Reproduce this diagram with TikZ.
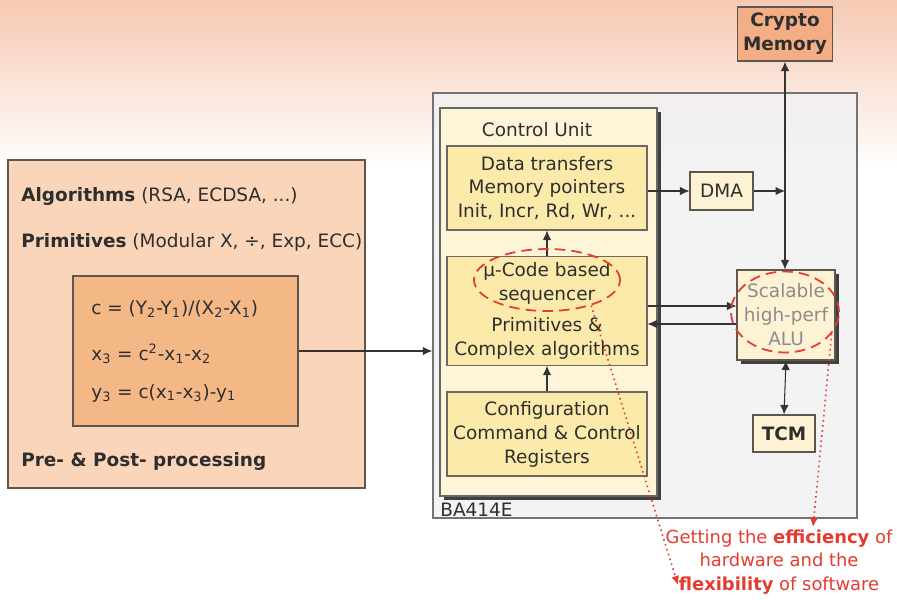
\documentclass[tikz,border=0pt]{standalone}
\usepackage{fontspec}
\setmainfont{DejaVu Sans}
\usetikzlibrary{arrows.meta,shapes.geometric,shadows}

\definecolor{bgpeach}{HTML}{F6C9B3}
\definecolor{hostfill}{HTML}{FAD5BA}
\definecolor{formfill}{HTML}{F4B887}
\definecolor{memfill}{HTML}{F4AE86}
\definecolor{chipfill}{HTML}{F1F1F1}
\definecolor{unitfill}{HTML}{FEF5D8}
\definecolor{stagefill}{HTML}{FCEAAA}
\definecolor{periphfill}{HTML}{FDF3D4}
\definecolor{edgegray}{HTML}{5E5650}
\definecolor{inkgray}{HTML}{2E2E2E}
\definecolor{alugray}{HTML}{8C8C8C}
\definecolor{hotred}{HTML}{E53A2E}

\tikzset{
  every node/.style={font=\fontsize{10.5}{13.6}\selectfont, text=inkgray},
  lbl/.style={anchor=west, inner sep=0pt},
  hostbox/.style={draw=edgegray, line width=0.7pt, fill=hostfill},
  formulabox/.style={draw=edgegray, line width=0.7pt, fill=formfill},
  chipbox/.style={draw=black!55, line width=0.8pt, fill=chipfill, fill opacity=0.85},
  unitbox/.style={draw=black!60, line width=0.6pt, fill=unitfill,
    drop shadow={shadow xshift=0.7mm, shadow yshift=-0.7mm, fill=black!75, opacity=1}},
  stagebox/.style={draw=edgegray!90, line width=0.6pt, fill=stagefill, align=center,
    minimum width=40mm},
  periphbox/.style={draw=edgegray, line width=0.6pt, fill=periphfill, align=center},
  memorybox/.style={draw=edgegray, line width=0.7pt, fill=memfill, align=center},
  ring/.style={draw=hotred, ellipse, line width=1pt, dash pattern=on 6pt off 3.5pt, inner sep=0pt},
  link/.style={draw=black!80, line width=0.6pt},
  pointer/.style={draw=hotred, line width=0.9pt, dotted, -{Latex[length=1.8mm,width=1.6mm]}},
  >={Latex[length=1.9mm,width=1.7mm]}
}

\begin{document}
\begin{tikzpicture}[x=0.2mm,y=-0.2mm]
  \useasboundingbox (0,0) rectangle (897,599);
  % backdrop fading out below the top
  \shade[top color=bgpeach, bottom color=white] (0,0) rectangle (897,170);

  % host software side
  \node[hostbox, minimum width=71.4mm, minimum height=65.6mm] (host) at (186.5,324) {};
  \node[lbl] (alg) at (21,196) {\textbf{Algorithms} (RSA, ECDSA, ...)};
  \node[lbl] (prim) at (21,242) {\textbf{Primitives} (Modular X, ÷, Exp, ECC)};
  \node[formulabox, minimum width=45mm, minimum height=30mm] (formula) at (185.5,351) {};
  \node[lbl] (eqc) at (91,309) {c = (Y\textsubscript{2}-Y\textsubscript{1})/(X\textsubscript{2}-X\textsubscript{1})};
  \node[lbl] (eqx) at (91,354) {x\textsubscript{3} = c\textsuperscript{2}-x\textsubscript{1}-x\textsubscript{2}};
  \node[lbl] (eqy) at (91,393) {y\textsubscript{3} = c(x\textsubscript{1}-x\textsubscript{3})-y\textsubscript{1}};
  \node[lbl] (prepost) at (21,461) {\textbf{Pre- \& Post- processing}};

  % the core
  \node[chipbox, minimum width=84.8mm, minimum height=85mm] (chip) at (645,305.5) {};
  \node[lbl] (chipname) at (440,510) {BA414E};
  \node[unitbox, minimum width=43.4mm, minimum height=77.6mm] (ctrl) at (548.5,302) {};
  \node (ctrlname) at (537,130) {Control Unit};
  \node[stagebox, minimum height=16.8mm] (xfer) at (547,188) {Data transfers\\Memory pointers\\Init, Incr, Rd, Wr, ...};
  \node[stagebox, minimum height=20.8mm] (seq) at (547,311) {µ-Code based\\sequencer\\[4pt]Primitives \&\\Complex algorithms};
  \node[stagebox, minimum height=16.8mm] (cfg) at (547,434) {Configuration\\Command \& Control\\Registers};
  \node[periphbox, minimum width=12.6mm, minimum height=7.6mm] (dma) at (721.5,191) {DMA};
  \node[memorybox, minimum width=18mm, minimum height=10.8mm] (cmem) at (785,34) {\textbf{Crypto}\\\textbf{Memory}};
  \node[periphbox, minimum width=19.6mm, minimum height=18mm, text=alugray,
    drop shadow={shadow xshift=0.7mm, shadow yshift=-0.7mm, fill=black!75, opacity=1}] (alu) at (786,315) {Scalable\\high-perf\\ALU};
  \node[periphbox, minimum width=12.4mm, minimum height=7.4mm] (tcm) at (784,433.5) {\textbf{TCM}};

  % connectors
  \draw[link,->] (formula.east) -- (formula.east -| chip.west);
  \draw[link,->] (seq.north) -- (xfer.south);
  \draw[link,->] (cfg.north) -- (seq.south);
  \draw[link,->] (xfer.east |- dma.west) -- (dma.west);
  \coordinate (busjoin) at (dma.east -| cmem.south);
  \draw[link,->] (dma.east) -- (busjoin);
  \draw[link,<->] (cmem.south) -- (cmem.south |- alu.north);
  \draw[link,->] ([yshift=1mm]seq.east) -- ([yshift=1mm]seq.east -| alu.west);
  \draw[link,<-] ([yshift=-2.6mm]seq.east) -- ([yshift=-2.6mm]seq.east -| alu.west);
  \draw[link,<->] (alu.south) -- (tcm.north);

  % highlights and remark
  \node[ring, minimum width=29.2mm, minimum height=12.4mm] (seqring) at (547,280) {};
  \node[ring, minimum width=21.6mm, minimum height=16.2mm] (aluring) at (785,312) {};
  \node[text=hotred, align=center, font=\fontsize{10.2}{13.4}\selectfont] (remark) at (779,562) {Getting the \textbf{efficiency} of\\hardware and the\\\textbf{flexibility} of software};
  \coordinate (tipsw) at (678,585);
  \coordinate (tipne) at (813,527);
  \draw[pointer] (seqring.-30) -- (tipsw);
  \draw[pointer] (aluring.-25) -- (tipne);
\end{tikzpicture}
\end{document}
